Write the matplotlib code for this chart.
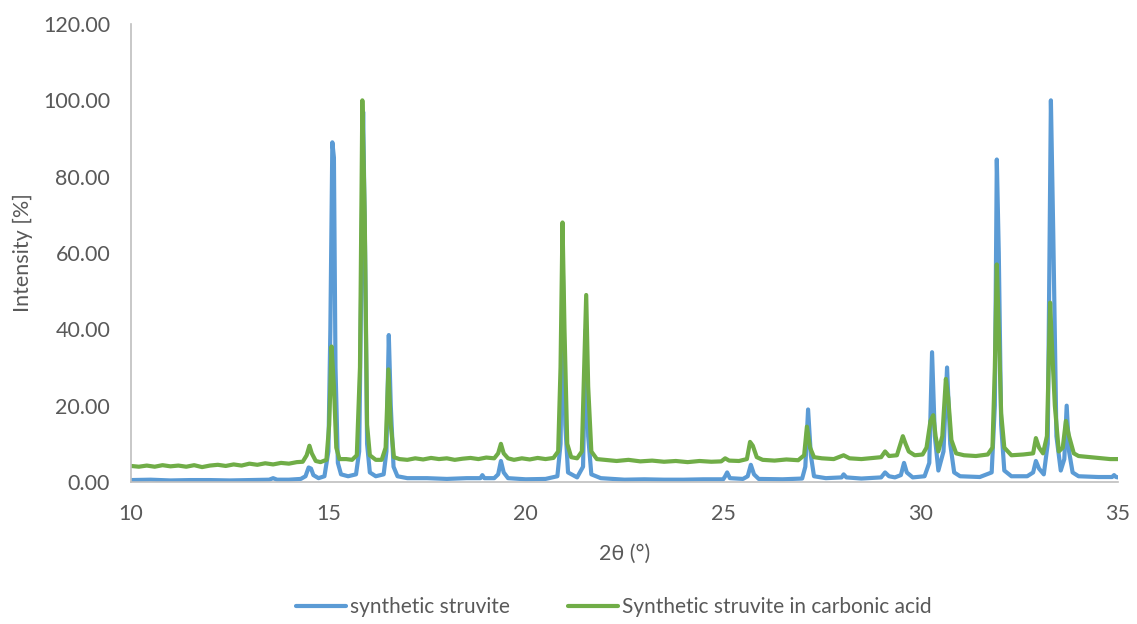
import matplotlib
matplotlib.use("Agg")
import matplotlib.pyplot as plt

# synthetic struvite (blue)
blue_x = [10.0, 10.5, 11.0, 11.5, 12.0, 12.5, 13.0, 13.5, 13.6, 13.7, 14.0, 14.3, 14.42, 14.5, 14.56, 14.62,
          14.75, 14.9, 15.0, 15.05, 15.1, 15.14, 15.18, 15.24, 15.32, 15.5, 15.7, 15.78, 15.83, 15.88, 15.93,
          15.98, 16.05, 16.2, 16.4, 16.47, 16.53, 16.58, 16.65, 16.75, 17.0, 17.5, 18.0, 18.5, 18.85, 18.9,
          18.95, 19.2, 19.3, 19.37, 19.44, 19.55, 20.0, 20.5, 20.8, 20.88, 20.94, 21.0, 21.07, 21.3, 21.45,
          21.52, 21.58, 21.66, 21.9, 22.5, 23.0, 23.5, 24.0, 24.5, 25.0, 25.05, 25.1, 25.17, 25.5, 25.62,
          25.7, 25.78, 25.9, 26.5, 27.0, 27.08, 27.15, 27.22, 27.3, 27.6, 28.0, 28.05, 28.12, 28.5, 29.0,
          29.1, 29.2, 29.35, 29.5, 29.58, 29.65, 29.8, 30.1, 30.22, 30.29, 30.36, 30.45, 30.58, 30.67, 30.75,
          30.85, 31.0, 31.5, 31.8, 31.88, 31.93, 31.98, 32.04, 32.12, 32.3, 32.7, 32.85, 32.92, 33.0, 33.12,
          33.22, 33.3, 33.36, 33.44, 33.55, 33.64, 33.7, 33.76, 33.85, 34.0, 34.5, 34.85, 34.9, 34.95, 35.0]
blue_y = [0.5, 0.6, 0.4, 0.5, 0.5, 0.4, 0.5, 0.6, 1.0, 0.6, 0.6, 0.8, 1.5, 3.8, 3.5, 1.8,
          1.0, 1.5, 8.0, 40.0, 89.0, 85.0, 30.0, 5.0, 2.0, 1.5, 2.0, 8.0, 50.0, 97.0, 60.0,
          10.0, 2.5, 1.5, 2.0, 8.0, 38.5, 20.0, 4.0, 1.5, 1.0, 1.0, 0.8, 1.0, 1.0, 1.8,
          1.0, 1.0, 2.0, 5.5, 2.5, 1.0, 0.7, 0.8, 1.5, 10.0, 55.0, 15.0, 2.5, 1.2, 4.0,
          40.0, 12.0, 2.0, 1.0, 0.6, 0.7, 0.6, 0.6, 0.7, 0.7, 1.5, 2.5, 1.0, 0.8, 1.5,
          4.5, 2.0, 0.8, 0.7, 0.9, 4.0, 19.0, 7.0, 1.5, 1.0, 1.2, 2.0, 1.2, 0.9, 1.2,
          2.5, 1.5, 1.2, 1.8, 5.0, 2.5, 1.2, 1.5, 5.0, 34.0, 12.0, 3.0, 8.0, 30.0, 10.0,
          2.5, 1.5, 1.3, 2.5, 20.0, 84.5, 60.0, 15.0, 3.0, 1.5, 1.5, 2.5, 5.5, 3.5, 2.0,
          10.0, 100.0, 65.0, 12.0, 3.0, 6.0, 20.0, 8.0, 2.5, 1.5, 1.3, 1.3, 1.8, 1.3, 1.2]

# synthetic struvite in carbonic acid (green)
green_x = [10.0, 10.2, 10.4, 10.6, 10.8, 11.0, 11.2, 11.4, 11.6, 11.8, 12.0, 12.2, 12.4, 12.6, 12.8, 13.0,
           13.2, 13.4, 13.6, 13.8, 14.0, 14.2, 14.35, 14.45, 14.52, 14.58, 14.68, 14.8, 14.95, 15.02, 15.08,
           15.14, 15.2, 15.28, 15.45, 15.6, 15.72, 15.8, 15.86, 15.92, 15.98, 16.05, 16.2, 16.35, 16.45,
           16.52, 16.58, 16.66, 16.8, 17.0, 17.2, 17.4, 17.6, 17.8, 18.0, 18.2, 18.4, 18.6, 18.8, 19.0,
           19.2, 19.3, 19.37, 19.44, 19.55, 19.7, 19.9, 20.1, 20.3, 20.5, 20.7, 20.82, 20.88, 20.93, 20.98,
           21.05, 21.15, 21.3, 21.42, 21.48, 21.53, 21.58, 21.66, 21.8, 22.0, 22.3, 22.6, 22.9, 23.2, 23.5,
           23.8, 24.1, 24.4, 24.7, 24.95, 25.05, 25.15, 25.4, 25.6, 25.68, 25.75, 25.85, 26.0, 26.3, 26.6,
           26.9, 27.05, 27.12, 27.2, 27.3, 27.5, 27.8, 28.05, 28.2, 28.5, 28.8, 29.0, 29.1, 29.2, 29.4,
           29.55, 29.62, 29.7, 29.85, 30.05, 30.15, 30.25, 30.32, 30.38, 30.45, 30.55, 30.64, 30.7, 30.78,
           30.9, 31.1, 31.4, 31.7, 31.82, 31.88, 31.93, 31.98, 32.04, 32.12, 32.3, 32.6, 32.85, 32.92, 33.0,
           33.1, 33.2, 33.28, 33.33, 33.4, 33.5, 33.6, 33.68, 33.76, 33.88, 34.0, 34.3, 34.6, 34.8, 35.0]
green_y = [4.2, 4.0, 4.3, 4.0, 4.4, 4.1, 4.3, 4.0, 4.4, 3.9, 4.3, 4.5, 4.2, 4.6, 4.3, 4.8,
           4.5, 4.9, 4.6, 5.0, 4.8, 5.2, 5.3, 7.0, 9.5, 7.5, 5.5, 5.2, 5.8, 15.0, 35.5,
           25.0, 9.0, 6.0, 6.0, 5.8, 7.0, 30.0, 100.0, 70.0, 15.0, 7.0, 5.8, 5.8, 9.0,
           29.5, 15.0, 6.5, 6.0, 5.8, 6.2, 5.9, 6.3, 6.0, 6.2, 5.8, 6.1, 6.3, 6.0, 6.4,
           6.2, 7.5, 10.0, 7.5, 6.2, 5.8, 6.2, 5.9, 6.3, 6.0, 6.3, 8.0, 30.0, 68.0, 40.0,
           10.0, 6.5, 6.2, 8.0, 30.0, 49.0, 25.0, 8.0, 6.0, 5.8, 5.5, 5.8, 5.4, 5.6, 5.3,
           5.5, 5.2, 5.5, 5.3, 5.4, 6.2, 5.6, 5.5, 6.0, 10.5, 9.5, 6.5, 5.8, 5.6, 5.9,
           5.7, 7.0, 14.5, 9.0, 6.5, 6.2, 6.0, 7.0, 6.2, 6.0, 6.3, 6.5, 8.0, 6.8, 7.0,
           12.0, 10.0, 8.0, 7.0, 7.2, 9.0, 16.0, 17.5, 12.0, 8.0, 12.0, 27.0, 22.0, 11.0,
           7.5, 7.0, 6.8, 7.2, 9.0, 30.0, 57.0, 40.0, 18.0, 9.0, 7.0, 7.2, 7.5, 11.5, 9.0,
           7.5, 12.0, 47.0, 35.0, 20.0, 8.0, 9.0, 16.0, 12.0, 7.5, 6.8, 6.5, 6.2, 6.0, 6.0]

series_labels = ["synthetic struvite", "Synthetic struvite in carbonic acid"]
x_ticks = [10, 15, 20, 25, 30, 35]
y_ticks = [0, 20, 40, 60, 80, 100, 120]

plt.rcParams['font.family'] = ['Lato', 'DejaVu Sans']
txt = '#595959'

fig = plt.figure(figsize=(11.37, 6.24), dpi=100)
ax = fig.add_axes([0.1152, 0.2276, 0.8681, 0.7339])

ax.plot(blue_x, blue_y, color='#5B9BD5', lw=3.0, label=series_labels[0],
        solid_joinstyle='round', solid_capstyle='round')
ax.plot(green_x, green_y, color='#70AD47', lw=3.0, label=series_labels[1],
        solid_joinstyle='round', solid_capstyle='round')

ax.set_xlim(10, 35)
ax.set_ylim(0, 120)
ax.set_xticks(x_ticks)
ax.set_yticks(y_ticks)
ax.set_yticklabels([f"{v:.2f}" for v in y_ticks])
ax.tick_params(length=0, labelsize=15.5, colors=txt)
ax.tick_params(axis='y', pad=15)
ax.tick_params(axis='x', pad=16)
for s in ['top', 'right']:
    ax.spines[s].set_visible(False)
for s in ['left', 'bottom']:
    ax.spines[s].set_color('#BFBFBF')
    ax.spines[s].set_linewidth(1.2)

ax.set_xlabel("2θ (°)", fontsize=15.5, color=txt, labelpad=14)
ax.set_ylabel("Intensity [%]", fontsize=15.5, color=txt, labelpad=7)

fig.legend(loc='center', bbox_to_anchor=(0.54, 0.027), ncol=2, frameon=False,
           fontsize=15, labelcolor=txt, handlelength=2.4, handletextpad=0.2, columnspacing=2.8)

fig.savefig("out.png", dpi=100)
